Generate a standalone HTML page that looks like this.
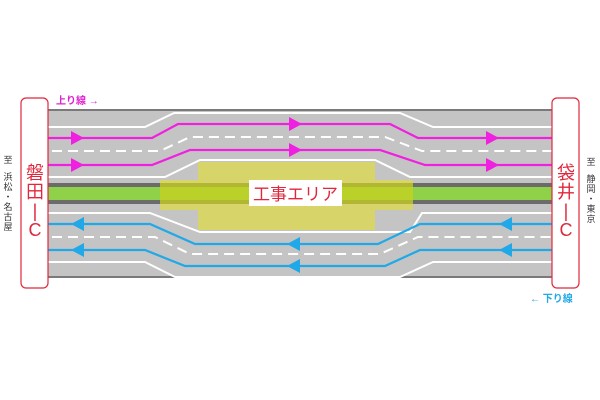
<!DOCTYPE html>
<html><head><meta charset="utf-8"><style>
html,body{margin:0;padding:0;background:#fff;}
svg{display:block}
text{font-family:"Liberation Sans","Noto Sans CJK JP",sans-serif;}
</style></head><body>
<svg width="600" height="400" viewBox="0 0 600 400" xmlns="http://www.w3.org/2000/svg">
<rect width="600" height="400" fill="#fff"/>
<rect x="48" y="110" width="504" height="167" fill="#c4c4c4"/>
<line x1="48" y1="110" x2="552" y2="110" stroke="#7a7a7a" stroke-width="2"/>
<line x1="48" y1="277" x2="552" y2="277" stroke="#7a7a7a" stroke-width="2"/>
<g fill="none" stroke="#fff" stroke-width="2">
<polyline points="48,127 145,127 174,113 400,113 433,127 552,127"/>
<polyline points="48,177 165,177 200,160 375,160 410,177 552,177"/>
<polyline points="48,213 150,213 200,232 410,232 422,213 552,213"/>
<polyline points="48,262 145,262 175,277 400,277 433,262 552,262"/>
</g>
<g fill="none" stroke="#fff" stroke-width="2" stroke-dasharray="10,6">
<polyline points="52,151 160,151 190,137 385,137 422,151 552,151"/>
<polyline points="52,237 155,237 190,254 380,254 418,237 552,237"/>
</g>
<rect x="160" y="180" width="253" height="30" fill="#d7d46a"/>
<rect x="198" y="162" width="177" height="68" fill="#d7d46a"/>
<rect x="48" y="183" width="504" height="21" fill="#6b6b6b"/>
<rect x="48" y="187" width="504" height="13" fill="#8fd24a"/>
<rect x="160" y="183" width="253" height="21" fill="#c8d020" opacity="0.75"/>
<rect x="249" y="180" width="93" height="26" fill="#fff"/>
<text x="295.5" y="200" font-size="17" fill="#e0283c" text-anchor="middle">工事エリア</text>
<g fill="none" stroke="#f020e0" stroke-width="2.2">
<polyline points="48,138 152,138 178,124 390,124 418,138 552,138"/>
<polyline points="48,165 152,165 190,150 380,150 425,165 552,165"/>
</g>
<g fill="#f020e0">
<polygon points="71,131 84,138 71,145"/><polygon points="71,158 84,165 71,172"/>
<polygon points="289,117 302,124 289,131"/><polygon points="289,143 302,150 289,157"/>
<polygon points="486,131 499,138 486,145"/><polygon points="486,158 499,165 486,172"/>
</g>
<g fill="none" stroke="#20a8e8" stroke-width="2.2">
<polyline points="48,224 150,224 195,244 378,244 420,224 552,224"/>
<polyline points="48,250 145,250 185,266 385,266 420,250 552,250"/>
</g>
<g fill="#20a8e8">
<polygon points="84,217 71,224 84,231"/><polygon points="84,243 71,250 84,257"/>
<polygon points="300,237 287,244 300,251"/><polygon points="300,259 287,266 300,273"/>
<polygon points="512,217 499,224 512,231"/><polygon points="512,243 499,250 512,257"/>
</g>
<rect x="21" y="98" width="27" height="190" rx="5" fill="#fff" stroke="#e0283c" stroke-width="1.2"/>
<rect x="552" y="98" width="27" height="190" rx="5" fill="#fff" stroke="#e0283c" stroke-width="1.2"/>
<g font-size="18" fill="#e0283c" text-anchor="middle">
<text x="35" y="179">磐</text><text x="35" y="198">田</text><text x="35" y="217">|</text><text x="35" y="236">C</text>
<text x="566" y="179">袋</text><text x="566" y="198">井</text><text x="566" y="217">|</text><text x="566" y="236">C</text>
</g>
<g font-size="9" fill="#333" text-anchor="middle">
<text x="8" y="163">至</text><text x="8" y="180">浜</text><text x="8" y="190">松</text><text x="8" y="200">・</text><text x="8" y="210">名</text><text x="8" y="220">古</text><text x="8" y="230">屋</text>
<text x="591" y="165">至</text><text x="591" y="182">静</text><text x="591" y="192">岡</text><text x="591" y="202">・</text><text x="591" y="212">東</text><text x="591" y="222">京</text>
</g>
<text x="56" y="104" font-size="10" font-weight="bold" fill="#e020d0">上り線 →</text>
<text x="530" y="302" font-size="10" font-weight="bold" fill="#20a8e8">← 下り線</text>
</svg>
</body></html>
